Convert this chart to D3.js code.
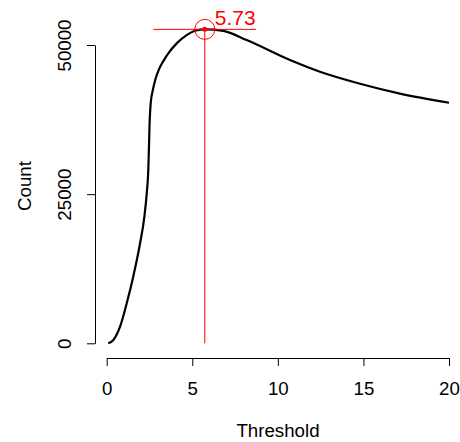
<!DOCTYPE html>
<html>
<head>
<meta charset="utf-8">
<script src="https://cdn.jsdelivr.net/npm/d3@7"></script>
<style>
  body { margin: 0; background: #fff; }
  text { font-family: "Liberation Sans", Arial, sans-serif; }
</style>
</head>
<body>
<div id="chart"></div>
<script>

// Curve values.
var thresholds = [0.09, 0.39, 0.78, 1.17, 1.55, 1.95, 2.20, 2.34, 2.43, 2.47, 2.50, 2.57,
  2.70, 2.85, 3.05, 3.31, 3.60, 4.09, 4.67, 5.16, 5.73, 6.81, 8.18, 10.71, 12.46, 14.8, 17.13, 20];
var counts = [0, 550, 2780, 6700, 11160, 16760, 21210, 25130, 29040, 32940, 36290, 40210,
  42500, 44300, 45900, 47300, 48590, 50270, 51660, 52380, 52620, 52380, 50820, 47470, 45510,
  43500, 41850, 40320];

// Axis ticks.
var xTicks = [0, 5, 10, 15, 20];
var yTicks = [0, 25000, 50000];

// Marked optimum.
var peakThreshold = 5.73;
var peakCount = 52620;
var peakLabel = "5.73";

var width = 460, height = 442;

var svg = d3.select("#chart")
  .append("svg")
  .attr("width", width)
  .attr("height", height);

// Scales
var x = d3.scaleLinear()
  .domain([0, 20])
  .range([106.7, 449]);

var y = d3.scaleLinear()
  .domain([0, 50000])
  .range([343.3, 45]);

// X axis (R style, detached from the plot area)
var xAxis = svg.append("g")
  .attr("transform", "translate(0,358)")
  .call(d3.axisBottom(x).tickValues(xTicks).tickSize(8).tickSizeOuter(0));
xAxis.selectAll("text")
  .attr("y", 37)
  .attr("dy", null)
  .style("font-size", "18.7px")
  .attr("fill", "#000");

// Y axis, labels rotated
var yAxis = svg.append("g")
  .attr("transform", "translate(95,0)")
  .call(d3.axisLeft(y).tickValues(yTicks).tickFormat(d3.format("d")).tickSize(8).tickSizeOuter(0));
yAxis.selectAll("text")
  .attr("x", null)
  .attr("dy", null)
  .attr("transform", "translate(-24,0) rotate(-90)")
  .style("text-anchor", "middle")
  .style("font-size", "18.7px")
  .attr("fill", "#000");

svg.selectAll(".domain, .tick line").attr("stroke", "#000");

// Curve
var line = d3.line()
  .x(function(d, i) { return x(thresholds[i]); })
  .y(function(d) { return y(d); })
  .curve(d3.curveMonotoneX);

svg.append("path")
  .datum(counts)
  .attr("d", line)
  .attr("fill", "none")
  .attr("stroke", "#000")
  .attr("stroke-width", 2.2)
  .attr("stroke-linejoin", "round");

// Optimum marker
svg.append("line")
  .attr("x1", x(peakThreshold)).attr("x2", x(peakThreshold))
  .attr("y1", y(peakCount)).attr("y2", y(0))
  .attr("stroke", "red");

svg.append("line")
  .attr("x1", x(peakThreshold - 3)).attr("x2", x(peakThreshold + 3))
  .attr("y1", y(peakCount)).attr("y2", y(peakCount))
  .attr("stroke", "red");

svg.append("circle")
  .attr("cx", x(peakThreshold)).attr("cy", y(peakCount))
  .attr("r", 10)
  .attr("fill", "none")
  .attr("stroke", "red");

svg.append("circle")
  .attr("cx", x(peakThreshold)).attr("cy", y(peakCount))
  .attr("r", 2.5)
  .attr("fill", "red");

svg.append("text")
  .attr("x", x(peakThreshold) + 10)
  .attr("y", y(peakCount) - 4)
  .attr("fill", "red")
  .style("font-size", "21px")
  .text(peakLabel);

// Axis titles
svg.append("text")
  .attr("x", 278)
  .attr("y", 437)
  .style("text-anchor", "middle")
  .style("font-size", "18.7px")
  .text("Threshold");

svg.append("text")
  .attr("transform", "translate(31,186) rotate(-90)")
  .style("text-anchor", "middle")
  .style("font-size", "18.7px")
  .text("Count");

</script>
</body>
</html>
